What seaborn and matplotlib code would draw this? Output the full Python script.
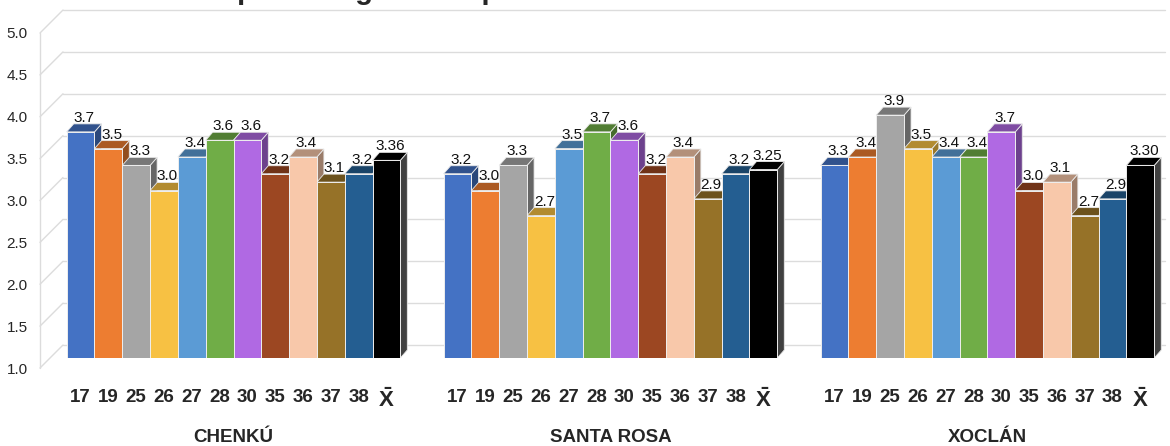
import numpy as np
import pandas as pd
import seaborn as sns
import matplotlib.pyplot as plt
import matplotlib.colors as mcolors
from matplotlib.patches import Polygon
from matplotlib.transforms import ScaledTranslation

# Datos del gráfico
territorios = ["CHENKÚ", "SANTA ROSA", "XOCLÁN"]
codigos = ["17", "19", "25", "26", "27", "28", "30", "35", "36", "37", "38", "media"]
etiquetas_x = ["17", "19", "25", "26", "27", "28", "30", "35", "36", "37", "38", r"$\mathbf{\bar{X}}$"]
chenku = [3.7, 3.5, 3.3, 3.0, 3.4, 3.6, 3.6, 3.2, 3.4, 3.1, 3.2, 3.36]
santa_rosa = [3.2, 3.0, 3.3, 2.7, 3.5, 3.7, 3.6, 3.2, 3.4, 2.9, 3.2, 3.25]
xoclan = [3.3, 3.4, 3.9, 3.5, 3.4, 3.4, 3.7, 3.0, 3.1, 2.7, 2.9, 3.30]
colores = ["#4472C4", "#ED7D31", "#A5A5A5", "#F7C143", "#5B9BD5", "#70AD47",
           "#B069E3", "#9C4722", "#F8C8AA", "#967228", "#245E91", "#000000"]
titulo = "Percepciones globales por territorio en todas las dimensiones"

df = pd.DataFrame({
    "territorio": np.repeat(territorios, len(codigos)),
    "codigo": codigos * len(territorios),
    "valor": chenku + santa_rosa + xoclan,
})

sns.set_theme(style="white")
plt.rcParams['font.family'] = ['Liberation Sans', 'DejaVu Sans']
plt.rcParams['mathtext.fontset'] = 'custom'
plt.rcParams['mathtext.rm'] = 'Liberation Sans'
plt.rcParams['mathtext.bf'] = 'Liberation Sans:bold'

W, H = 1170, 446
fig = plt.figure(figsize=(W / 100, H / 100), dpi=100)
ax_w, ax_h = 1125, 335
ax = fig.add_axes([40 / W, 88 / H, ax_w / W, ax_h / H])

sns.barplot(data=df, x="territorio", y="valor", hue="codigo", hue_order=codigos,
            palette=colores, width=0.885, saturation=1, legend=False, ax=ax,
            edgecolor="#eeeeee", linewidth=0.7)

x0, x1 = -0.5133, 2.471
ax.set_xlim(x0, x1)
ax.set_ylim(1, 5)
for s in ax.spines.values():
    s.set_visible(False)

# tamaño de un pixel en unidades de datos
ppx = (x1 - x0) / ax_w
ppy = 4 / ax_h
prof_x, prof_y = 7 * ppx, 8 * ppy

# pared del fondo (efecto 3D)
gris = "#dcdcdc"
trans = ax.get_yaxis_transform()
yticks = np.arange(1, 5.01, 0.5)
for v in yticks:
    ax.plot([23 / ax_w, 1], [v + 13 * ppy] * 2, color=gris, lw=1, transform=trans,
            zorder=0.5, clip_on=False)
    ax.plot([0, 23 / ax_w], [v - 10 * ppy, v + 13 * ppy], color=gris, lw=1,
            transform=trans, zorder=0.5, clip_on=False)
ax.plot([0, 0], [1 - 10 * ppy, 5 - 10 * ppy], color=gris, lw=1, transform=trans,
        zorder=0.5, clip_on=False)

# caras superiores y laterales de las barras
barras = sorted(ax.patches, key=lambda p: p.get_x())
valores = chenku + santa_rosa + xoclan
for i, (p, val) in enumerate(zip(barras, valores)):
    p.set_zorder(2)
    x, w, h = p.get_x(), p.get_width(), p.get_height()
    col = np.array(mcolors.to_rgb(p.get_facecolor()))
    lado = col * 0.62 if col.sum() > 0 else np.array([0.25, 0.25, 0.25])
    tapa = col * 0.72
    ax.add_patch(Polygon([(x + w, 1), (x + w, h), (x + w + prof_x, h + prof_y),
                          (x + w + prof_x, 1 + prof_y)], closed=True,
                         facecolor=lado, edgecolor="#e8e8e8", lw=0.6, zorder=1.5))
    ax.add_patch(Polygon([(x, h), (x + w, h), (x + w + prof_x, h + prof_y),
                          (x + prof_x, h + prof_y)], closed=True,
                         facecolor=tapa, edgecolor="#e8e8e8", lw=0.6, zorder=1.5))
    texto = f"{val:.2f}" if i % len(codigos) == len(codigos) - 1 else f"{val:.1f}"
    ax.text(x + w / 2 + prof_x / 2, h + prof_y - 1 * ppy, texto, ha="center",
            va="bottom", fontsize=11, color="#111111", zorder=3)

# ejes
centros = [p.get_x() + p.get_width() / 2 for p in barras]
ax.set_xticks(centros)
ax.set_xticklabels(etiquetas_x * len(territorios), fontsize=13.5, fontweight="bold")
for lab in ax.get_xticklabels():
    if "bar" in lab.get_text():
        lab.set_fontsize(16)
ax.tick_params(axis="x", length=0, pad=22)
ax.set_yticks(yticks)
ax.set_yticklabels([f"{v:.1f}" for v in yticks], fontsize=11)
ax.tick_params(axis="y", length=0, pad=9)
for lab in ax.get_yticklabels():
    lab.set_transform(lab.get_transform() + ScaledTranslation(0, -0.10, fig.dpi_scale_trans))
ax.set_xlabel("")
ax.set_ylabel("")

for k, terr in enumerate(territorios):
    ax.text(k, (358 - 437) / ax_h, terr, transform=ax.get_xaxis_transform(),
            ha="center", va="center", fontsize=13.5, fontweight="bold")

# título recortado en el borde superior, como en la referencia
fig.text(589 / W, 1 + 1 / H, titulo, ha="center", va="baseline", fontsize=21,
         fontweight="bold", family="Liberation Sans")

fig.savefig("out.png", dpi=100)
